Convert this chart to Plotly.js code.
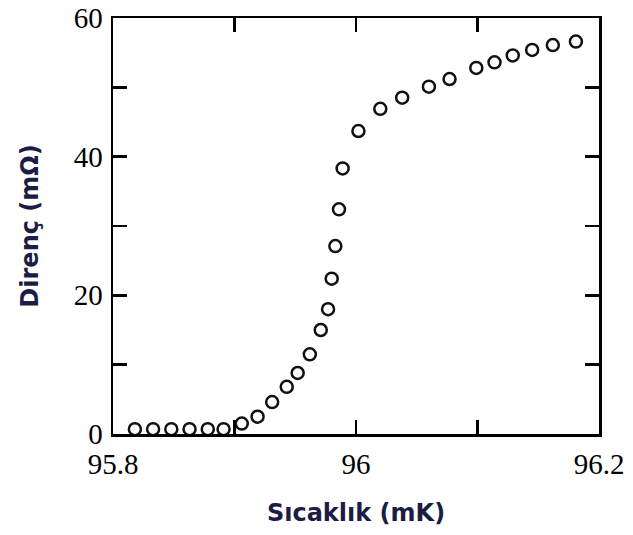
<!DOCTYPE html>
<html>
<head>
<meta charset="utf-8">
<script src="https://cdn.plot.ly/plotly-3.0.1.min.js"></script>
<style>html,body{margin:0;padding:0;background:#fff;}#chart{width:633px;height:535px;}</style>
</head>
<body>
<div id="chart"></div>
<script>
// Temperature (mK)
const sicaklik = [95.818, 95.833, 95.848, 95.863, 95.878, 95.891, 95.906, 95.919, 95.931, 95.943,
  95.952, 95.962, 95.971, 95.977, 95.980, 95.983, 95.986, 95.989, 96.002, 96.020,
  96.038, 96.060, 96.077, 96.099, 96.114, 96.129, 96.145, 96.162, 96.181];
// Resistance (mOhm)
const direnc = [0.7, 0.7, 0.7, 0.7, 0.7, 0.7, 1.5, 2.5, 4.6, 6.8,
  8.8, 11.5, 15.0, 18.0, 22.4, 27.1, 32.4, 38.3, 43.7, 46.9,
  48.5, 50.1, 51.2, 52.8, 53.6, 54.6, 55.4, 56.1, 56.6];
const xTickVals = [95.8, 96.0, 96.2];
const xTickText = ['95.8', '96', '96.2'];
const yTickVals = [0, 20, 40, 60];
const yTickText = ['0', '20', '40', '60'];
const xTitle = 'Sıcaklık (mK)';
const yTitle = 'Direnç (mΩ)';

const tickFont = {family: 'Liberation Serif, Times New Roman, serif', size: 29, color: '#000'};
const titleFont = {family: 'DejaVu Sans, Verdana, sans-serif', size: 24, color: '#1c1c44', weight: 'bold'};

const trace = {
  x: sicaklik, y: direnc, type: 'scatter', mode: 'markers',
  marker: {symbol: 'circle-open', size: 12, color: '#111', line: {width: 2.5, color: '#111'}},
  hoverinfo: 'x+y', cliponaxis: false
};

const layout = {
  width: 633, height: 535,
  margin: {l: 113, r: 34, t: 18, b: 101},
  paper_bgcolor: '#fff', plot_bgcolor: '#fff',
  showlegend: false,
  xaxis: {
    range: [95.8, 96.2], tickmode: 'array', tickvals: xTickVals, ticktext: xTickText,
    ticks: 'inside', ticklen: 14, tickwidth: 2.5, tickcolor: '#000',
    minor: {dtick: 0.1, tick0: 95.8, ticks: 'inside', ticklen: 14, tickwidth: 2.5, tickcolor: '#000'},
    showline: true, linewidth: 2.5, linecolor: '#000', mirror: 'ticks',
    showgrid: false, zeroline: false, ticklabeloverflow: 'allow',
    tickfont: tickFont, ticklabelstandoff: 3,
    title: {text: xTitle, font: titleFont, standoff: 25}
  },
  yaxis: {
    range: [0, 60], tickmode: 'array', tickvals: yTickVals, ticktext: yTickText,
    ticks: 'inside', ticklen: 14, tickwidth: 2.5, tickcolor: '#000',
    minor: {dtick: 10, tick0: 0, ticks: 'inside', ticklen: 14, tickwidth: 2.5, tickcolor: '#000'},
    showline: true, linewidth: 2.5, linecolor: '#000', mirror: 'ticks',
    showgrid: false, zeroline: false, ticklabeloverflow: 'allow',
    tickfont: tickFont, ticklabelstandoff: 2,
    title: {text: yTitle, font: titleFont, standoff: 29}
  }
};

Plotly.newPlot('chart', [trace], layout, {displayModeBar: false, staticPlot: true});
</script>
</body>
</html>
